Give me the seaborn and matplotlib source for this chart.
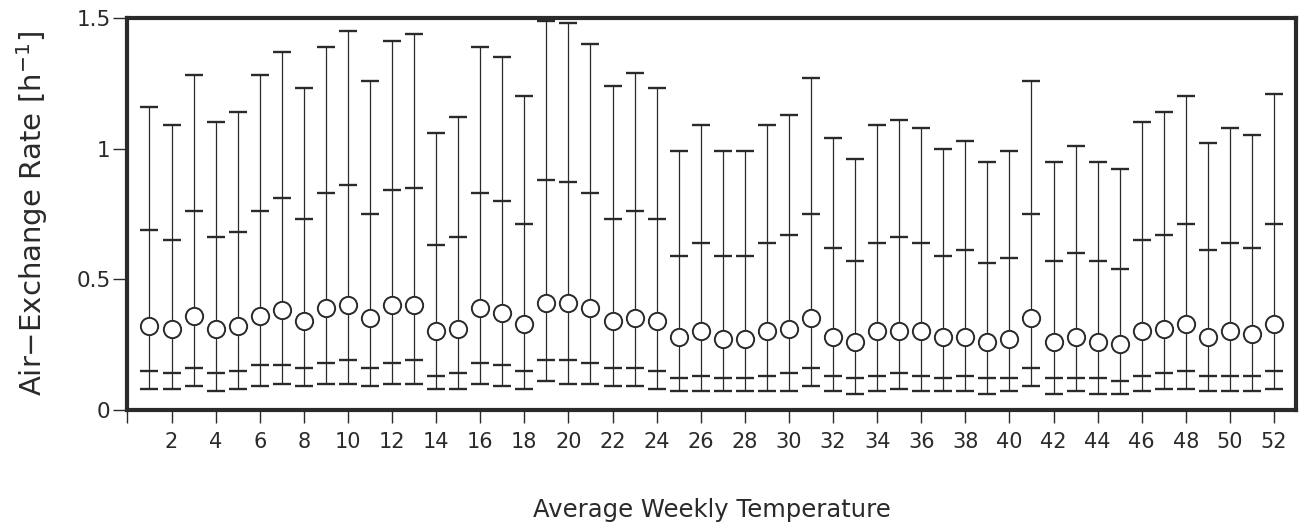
import matplotlib
matplotlib.use("Agg")
import matplotlib.pyplot as plt
import seaborn as sns
import pandas as pd

# ─── DATA ────────────────────────────────────────────────────
weeks = list(range(1, 53))

p_top = [1.16, 1.09, 1.28, 1.10, 1.14, 1.28, 1.37, 1.23, 1.39, 1.45,
         1.26, 1.41, 1.44, 1.06, 1.12, 1.39, 1.35, 1.20, 1.49, 1.48,
         1.40, 1.24, 1.29, 1.23, 0.99, 1.09, 0.99, 0.99, 1.09, 1.13,
         1.27, 1.04, 0.96, 1.09, 1.11, 1.08, 1.00, 1.03, 0.95, 0.99,
         1.26, 0.95, 1.01, 0.95, 0.92, 1.10, 1.14, 1.20, 1.02, 1.08,
         1.05, 1.21]

p_upper = [0.69, 0.65, 0.76, 0.66, 0.68, 0.76, 0.81, 0.73, 0.83, 0.86,
           0.75, 0.84, 0.85, 0.63, 0.66, 0.83, 0.80, 0.71, 0.88, 0.87,
           0.83, 0.73, 0.76, 0.73, 0.59, 0.64, 0.59, 0.59, 0.64, 0.67,
           0.75, 0.62, 0.57, 0.64, 0.66, 0.64, 0.59, 0.61, 0.56, 0.58,
           0.75, 0.57, 0.60, 0.57, 0.54, 0.65, 0.67, 0.71, 0.61, 0.64,
           0.62, 0.71]

p_median = [0.32, 0.31, 0.36, 0.31, 0.32, 0.36, 0.38, 0.34, 0.39, 0.40,
            0.35, 0.40, 0.40, 0.30, 0.31, 0.39, 0.37, 0.33, 0.41, 0.41,
            0.39, 0.34, 0.35, 0.34, 0.28, 0.30, 0.27, 0.27, 0.30, 0.31,
            0.35, 0.28, 0.26, 0.30, 0.30, 0.30, 0.28, 0.28, 0.26, 0.27,
            0.35, 0.26, 0.28, 0.26, 0.25, 0.30, 0.31, 0.33, 0.28, 0.30,
            0.29, 0.33]

p_lower = [0.15, 0.14, 0.16, 0.14, 0.15, 0.17, 0.17, 0.16, 0.18, 0.19,
           0.16, 0.18, 0.19, 0.13, 0.14, 0.18, 0.17, 0.15, 0.19, 0.19,
           0.18, 0.16, 0.16, 0.15, 0.12, 0.13, 0.12, 0.12, 0.13, 0.14,
           0.16, 0.13, 0.12, 0.13, 0.14, 0.13, 0.12, 0.13, 0.12, 0.12,
           0.16, 0.12, 0.12, 0.12, 0.11, 0.13, 0.14, 0.15, 0.13, 0.13,
           0.13, 0.15]

p_bottom = [0.08, 0.08, 0.09, 0.07, 0.08, 0.09, 0.10, 0.09, 0.10, 0.10,
            0.09, 0.10, 0.10, 0.08, 0.08, 0.10, 0.09, 0.08, 0.11, 0.10,
            0.10, 0.09, 0.09, 0.08, 0.07, 0.07, 0.07, 0.07, 0.07, 0.07,
            0.09, 0.07, 0.06, 0.07, 0.08, 0.07, 0.07, 0.07, 0.06, 0.07,
            0.09, 0.06, 0.07, 0.06, 0.06, 0.07, 0.08, 0.08, 0.07, 0.07,
            0.07, 0.08]

x_ticks = list(range(0, 53, 2))
x_ticklabels = [""] + [str(t) for t in x_ticks[1:]]
y_ticks = [0, 0.5, 1, 1.5]
y_ticklabels = ["0", "0.5", "1", "1.5"]

df = pd.DataFrame({
    "week": weeks, "top": p_top, "upper": p_upper,
    "median": p_median, "lower": p_lower, "bottom": p_bottom,
})

# ─── STYLE ───────────────────────────────────────────────────
sns.set_style("white")
plt.rcParams["font.family"] = ["DejaVu Sans"]
INK = "#2a2a2a"

fig = plt.figure(figsize=(13, 5.28), dpi=100)
ax = fig.add_axes([0.098, 0.224, 0.899, 0.742])

# whiskers
ax.vlines(df["week"], df["bottom"], df["top"], color=INK, lw=0.9, zorder=2)

# horizontal ticks at the four percentiles
for col in ["top", "upper", "lower", "bottom"]:
    ax.plot(df["week"], df[col], ls="none", marker="_", ms=12.5,
            mew=1.7, color=INK, zorder=3)

# medians as open circles
sns.scatterplot(data=df, x="week", y="median", ax=ax, s=155,
                facecolor="white", edgecolor=INK, linewidth=1.4,
                zorder=4, legend=False)

ax.set_xlim(0, 53)
ax.set_ylim(0, 1.5)
ax.set_xticks(x_ticks)
ax.set_xticklabels(x_ticklabels)
ax.set_yticks(y_ticks)
ax.set_yticklabels(y_ticklabels)

ax.tick_params(axis="x", direction="out", length=9, width=1.0,
               color=INK, labelcolor=INK, labelsize=15, pad=7, bottom=True)
ax.tick_params(axis="y", direction="out", length=10, width=1.0,
               color=INK, labelcolor=INK, labelsize=15.5, pad=2, left=True)

for spine in ax.spines.values():
    spine.set_visible(True)
    spine.set_edgecolor(INK)
    spine.set_linewidth(3)

ax.set_xlabel("Average Weekly Temperature", fontsize=17.5, color=INK)
ax.set_ylabel(r"Air$-$Exchange Rate [h$^{-1}$]", fontsize=21, color=INK)
ax.xaxis.set_label_coords(0.5, -0.225)
ax.yaxis.set_label_coords(-0.066, 0.5)

plt.savefig("out.png", dpi=100)
plt.close()
